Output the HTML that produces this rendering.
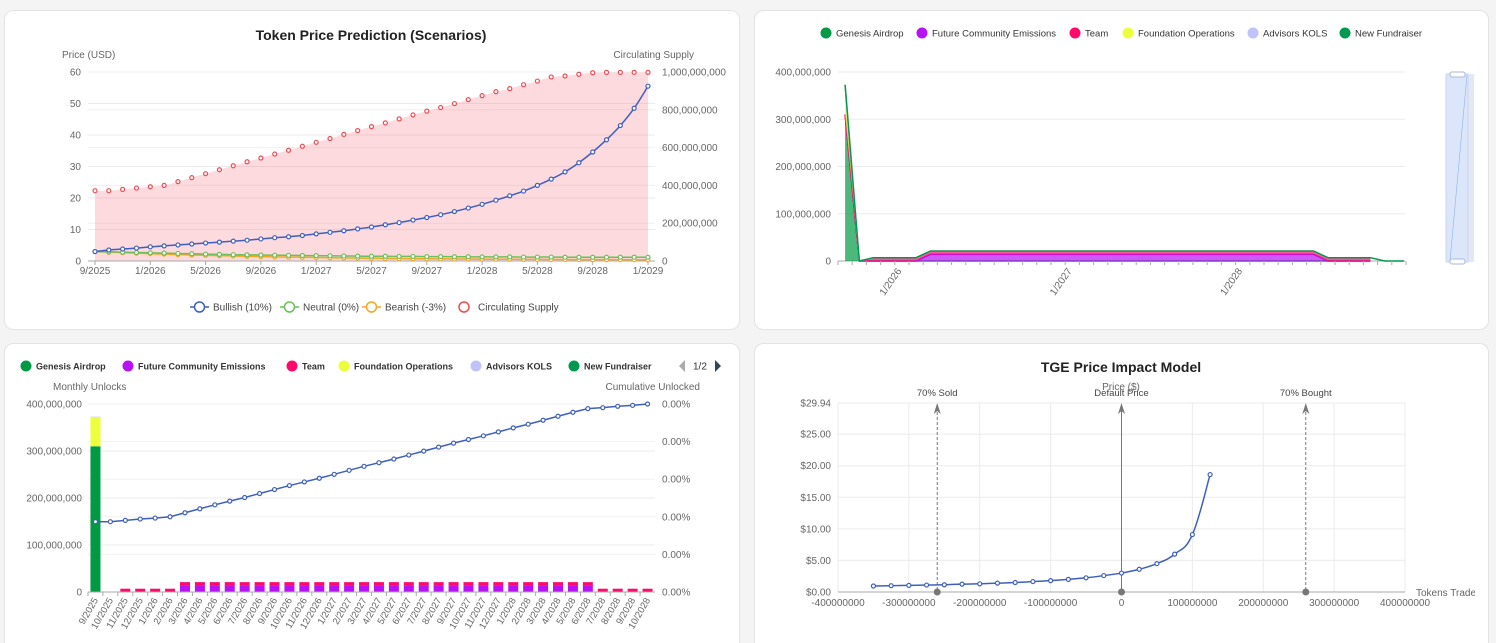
<!DOCTYPE html>
<html><head><meta charset="utf-8"><style>
html,body{margin:0;padding:0;background:#f4f4f5;width:1496px;height:643px;overflow:hidden}
svg{display:block;font-family:"Liberation Sans",sans-serif}
</style></head><body>
<svg id="s" width="1496" height="643" viewBox="0 0 1496 643" xmlns="http://www.w3.org/2000/svg"></svg>
<script>
// ---------- Chart 1 data ----------
const monthLabels1 = ["9/2025","1/2026","5/2026","9/2026","1/2027","5/2027","9/2027","1/2028","5/2028","9/2028","1/2029"];
const bullish = [3.0,3.5,3.8,4.1,4.5,4.8,5.1,5.4,5.7,6.0,6.3,6.6,7.0,7.4,7.7,8.1,8.6,9.1,9.6,10.2,10.8,11.5,12.2,13.0,13.8,14.7,15.7,16.8,18.0,19.3,20.7,22.2,24.0,26.0,28.3,31.2,34.6,38.5,43.0,48.5,55.5];
const neutral = [3.0,2.9,2.8,2.7,2.6,2.5,2.4,2.3,2.2,2.1,2.0,1.95,1.9,1.85,1.8,1.75,1.7,1.65,1.6,1.55,1.5,1.5,1.45,1.45,1.4,1.4,1.35,1.35,1.3,1.3,1.3,1.25,1.25,1.25,1.2,1.2,1.2,1.2,1.2,1.2,1.2];
const bearish = [3.0,2.8,2.65,2.5,2.35,2.2,2.05,1.9,1.8,1.7,1.6,1.5,1.4,1.32,1.25,1.18,1.1,1.04,0.98,0.93,0.88,0.83,0.79,0.75,0.71,0.68,0.65,0.62,0.59,0.56,0.54,0.52,0.5,0.48,0.46,0.45,0.44,0.43,0.42,0.41,0.4];
const supplyM = [372,372,379,386,393,400,420,441,462,483,504,525,545,566,586,607,628,648,670,690,711,731,752,773,793,812,833,854,875,896,912,933,952,974,979,988,996,998,998,998,998];
const priceTicks = [0,10,20,30,40,50,60];
const supplyTicks = [0,200000000,400000000,600000000,800000000,1000000000];
// ---------- Unlock data ----------
const unlockMonths = ["9/2025","10/2025","11/2025","12/2025","1/2026","2/2026","3/2026","4/2026","5/2026","6/2026","7/2026","8/2026","9/2026","10/2026","11/2026","12/2026","1/2027","2/2027","3/2027","4/2027","5/2027","6/2027","7/2027","8/2027","9/2027","10/2027","11/2027","12/2027","1/2028","2/2028","3/2028","4/2028","5/2028","6/2028","7/2028","8/2028","9/2028","10/2028"];
const genesisM = [310,0,0,0,0,0,0,0,0,0,0,0,0,0,0,0,0,0,0,0,0,0,0,0,0,0,0,0,0,0,0,0,0,0,0,0,0,0];
const communityM = [0,0,0,0,0,0,14,14,14,14,14,14,14,14,14,14,14,14,14,14,14,14,14,14,14,14,14,14,14,14,14,14,14,14,0,0,0,0];
const teamM = [0,0,7,7,7,7,7,7,7,7,7,7,7,7,7,7,7,7,7,7,7,7,7,7,7,7,7,7,7,7,7,7,7,7,7,7,7,7];
const foundationM = [62,0,0,0,0,0,0,0,0,0,0,0,0,0,0,0,0,0,0,0,0,0,0,0,0,0,0,0,0,0,0,0,0,0,0,0,0,0];
const advisorsM = [1,0,0,0,0,0,0,0,0,0,0,0,0,0,0,0,0,0,0,0,0,0,0,0,0,0,0,0,0,0,0,0,0,0,0,0,0,0];
const fundraiserM = [0,0,0,0,0,0,0,0,0,0,0,0,0,0,0,0,0,0,0,0,0,0,0,0,0,0,0,0,0,0,0,0,0,0,0,0,0,0];
const cumulativeM = [149.6,149.6,152.4,155.2,157.3,160.1,168.6,177.1,185.5,193.3,201,209.5,218,226.5,234.2,242,250.4,258.9,267.4,275.1,282.9,291.4,299.8,308.3,316.8,324.5,332.3,340.7,349.2,357,365.4,373.9,382.4,390.1,392.2,395.1,397.2,400];
const unlockTicks = [0,100000000,200000000,300000000,400000000];
const pctTicks = ["0.00%","0.00%","0.00%","0.00%","0.00%","0.00%"];
const areaLabels = ["1/2026","1/2027","1/2028"];
const areaLabelIdx = [4,16,28];
// ---------- TGE data ----------
const tradedM = [-350,-325,-300,-275,-250,-225,-200,-175,-150,-125,-100,-75,-50,-25,0,25,50,75,100,125];
const impactPrice = [0.95,1.0,1.05,1.1,1.15,1.25,1.3,1.4,1.5,1.65,1.8,2.0,2.25,2.6,3.0,3.6,4.5,6.0,9.1,18.6];
const tgeYTicks = [0,5,10,15,20,25,29.94];
const tgeXTicks = [-400000000,-300000000,-200000000,-100000000,0,100000000,200000000,300000000,400000000];
const markerM = [-260,0,260];
const markerLabels = ["70% Sold","Default Price","70% Bought"];

const series = [
 {n:"Genesis Airdrop",c:"#009a44",d:genesisM},
 {n:"Future Community Emissions",c:"#b612f5",d:communityM},
 {n:"Team",c:"#ff0a6c",d:teamM},
 {n:"Foundation Operations",c:"#ebff3a",d:foundationM},
 {n:"Advisors KOLS",c:"#c2c2fb",d:advisorsM},
 {n:"New Fundraiser",c:"#00994d",d:fundraiserM}];

const S=document.getElementById('s');const NS="http://www.w3.org/2000/svg";
function el(t,a,p){const e=document.createElementNS(NS,t);for(const k in a)e.setAttribute(k,a[k]);(p||S).appendChild(e);return e;}
function tx(x,y,s,a,p){const e=el('text',Object.assign({x:x,y:y,'font-size':10,fill:'#666'},a||{}),p);e.textContent=s;return e;}
function fmt(v){return v.toLocaleString('en-US');}
function smooth(pts){let d="M"+pts[0][0]+","+pts[0][1];for(let i=0;i<pts.length-1;i++){const p0=pts[i-1]||pts[i],p1=pts[i],p2=pts[i+1],p3=pts[i+2]||p2;const t=0.2;d+=" C"+(p1[0]+(p2[0]-p0[0])*t)+","+(p1[1]+(p2[1]-p0[1])*t)+" "+(p2[0]-(p3[0]-p1[0])*t)+","+(p2[1]-(p3[1]-p1[1])*t)+" "+p2[0]+","+p2[1];}return d;}

[[4,10,735,319,'price-prediction-card'],[754,10,734,319,'vesting-area-card'],[4,343,735,310,'monthly-unlocks-card'],[754,343,734,310,'tge-impact-card']].forEach(c=>{
 const r=el('rect',{x:c[0]+.5,y:c[1]+.5,width:c[2],height:c[3],rx:9,fill:'#fff',stroke:'#e3e3e6'});
 });

// ===== Chart 1 =====
(function(){
 const g=el('g',{});
 const x0=95,x1=648,yT=72,yB=261;
 const X=i=>x0+(x1-x0)*i/(bullish.length-1);
 const YL=v=>yB-(yB-yT)*v/60;
 const YR=v=>yB-(yB-yT)*v/1000000000;
 const t=tx(371,40,"Token Price Prediction (Scenarios)",{'font-size':14,'font-weight':'bold',fill:'#222','text-anchor':'middle'},g);
 
 tx(62,58,"Price (USD)",{},g);
 tx(694,58,"Circulating Supply",{'text-anchor':'end'},g);
 priceTicks.forEach(v=>{el('line',{x1:88,x2:655,y1:YL(v),y2:YL(v),stroke:'#ebebeb'},g);
   const l=tx(81,YL(v)+3.5,String(v),{'text-anchor':'end'},g);});
 supplyTicks.forEach(v=>{el('line',{x1:88,x2:655,y1:YR(v),y2:YR(v),stroke:'#f0f0f0'},g);
   const l=tx(662,YR(v)+3.5,fmt(v),{},g);});
 const sp=supplyM.map((v,i)=>[X(i),YR(v*1e6)]);
 const area=el('path',{d:smooth(sp)+` L${x1},${yB} L${x0},${yB} Z`,fill:'rgba(245,120,130,0.27)'},g);
 
 el('line',{x1:88,x2:655,y1:yB,y2:yB,stroke:'#aaa'},g);
 monthLabels1.forEach((s,k)=>{const x=X(k*4);el('line',{x1:x,x2:x,y1:yB,y2:yB+4,stroke:'#aaa'},g);
   const l=tx(x,yB+13,s,{'text-anchor':'middle'},g);});
 function line(d,c,name){const p=el('path',{d:smooth(d.map((v,i)=>[X(i),YL(v)])),fill:'none',stroke:c,'stroke-width':1.5},g);
   
   d.forEach((v,i)=>{const c2=el('circle',{cx:X(i),cy:YL(v),r:2,fill:'#fff',stroke:c,'stroke-width':1.2},g);
   });}
 line(bearish,'#f5a623','bearish');line(neutral,'#6cc05c','neutral');line(bullish,'#3f5fbf','bullish');
 supplyM.forEach((v,i)=>{const c=el('circle',{cx:X(i),cy:YR(v*1e6),r:2,fill:'#fff',stroke:'#f04b55','stroke-width':1.2},g);
   });
 [[190,'#3f5fbf','Bullish (10%)'],[280,'#6cc05c','Neutral (0%)'],[362,'#f5a623','Bearish (-3%)']].forEach(L=>{
   const lg=el('g',{},g);
   el('line',{x1:L[0],x2:L[0]+19,y1:307,y2:307,stroke:L[1],'stroke-width':1.5},lg);
   el('circle',{cx:L[0]+9.5,cy:307,r:5,fill:'#fff',stroke:L[1],'stroke-width':1.5},lg);
   tx(L[0]+23,310.5,L[2],{fill:'#444'},lg);});
 const lg=el('g',{},g);
 el('circle',{cx:464,cy:307,r:5,fill:'#fff',stroke:'#f04b55','stroke-width':1.5},lg);tx(478,310.5,'Circulating Supply',{fill:'#444'},lg);
})();

function legend(g,xs,y,bold){series.forEach((s,i)=>{const lg=el('g',{},g);
 el('circle',{cx:xs[i],cy:y,r:5.5,fill:s.c},lg);tx(xs[i]+10,y+3.5,s.n,{fill:'#333','font-size':bold?9:9.5,'font-weight':bold?'bold':'normal'},lg);});}

// ===== Chart 2 (stacked area) =====
(function(){
 const g=el('g',{});
 legend(g,[826,922,1075,1128,1253,1345],33,false);
 const bx=838,bw=14.2,yT=72,yB=261;
 const X=i=>bx+bw/2+i*bw;const Y=v=>yB-(yB-yT)*v/400000000;
 unlockTicks.forEach(v=>{el('line',{x1:bx,x2:1405,y1:Y(v),y2:Y(v),stroke:'#ebebeb'},g);
   const l=tx(831,Y(v)+3.5,fmt(v),{'text-anchor':'end'},g);});
 el('line',{x1:bx,x2:1405,y1:yB,y2:yB,stroke:'#aaa'},g);
 let base=genesisM.map(()=>0);
 series.forEach((s,k)=>{const top=base.map((b,i)=>b+s.d[i]);
   const up=top.map((v,i)=>X(i)+','+Y(v*1e6));const dn=base.map((v,i)=>X(i)+','+Y(v*1e6)).reverse();
   const a=el('path',{d:'M'+up.join(' L')+' L'+dn.join(' L')+'Z',fill:s.c,'fill-opacity':0.7},g);
   
   el('path',{d:'M'+up.join(' L'),fill:'none',stroke:s.c,'stroke-width':1.5},g);base=top;});
 el('path',{d:`M${X(genesisM.length-1)},${Y(base[base.length-1]*1e6)} L${X(genesisM.length-1)+bw},${yB} L1404,${yB}`,fill:'none',stroke:'#00994d','stroke-width':1.5},g);
 for(let i=0;i<=40;i++){const x=bx+i*bw;el('line',{x1:x,x2:x,y1:yB,y2:yB+4,stroke:'#aaa'},g);}
 areaLabels.forEach((s,k)=>{const x=X(areaLabelIdx[k]);const l=tx(x,yB+10,s,{'text-anchor':'end',transform:`rotate(-55 ${x} ${yB+10})`},g);});
 const sl=el('g',{},g);
 el('rect',{x:1446,y:74,width:28,height:188,fill:'#e2e8f5'},sl);
 el('rect',{x:1446,y:74,width:22,height:188,fill:'#dbe6fb',stroke:'#c9d6f0'},sl);
 el('line',{x1:1467,y1:75,x2:1450,y2:261,stroke:'#8fb0ee','stroke-width':.6},sl);
 el('rect',{x:1450,y:72,width:15,height:5,rx:2,fill:'#fff',stroke:'#a8b8d8'},sl);
 el('rect',{x:1450,y:259,width:15,height:5,rx:2,fill:'#fff',stroke:'#a8b8d8'},sl);
})();

// ===== Chart 3 (monthly unlocks) =====
(function(){
 const g=el('g',{});
 legend(g,[26,128,292,344,476,574],366,true);
 const pg=el('g',{},g);
 el('path',{d:'M685,360 L679,366 L685,372Z',fill:'#aaa'},pg);tx(693,369.5,'1/2',{fill:'#333'},pg);el('path',{d:'M715,360 L721,366 L715,372Z',fill:'#2f4554'},pg);
 tx(53,390,'Monthly Unlocks',{},g);
 tx(700,390,'Cumulative Unlocked',{'text-anchor':'end'},g);
 const bx=88,bw=(655-88)/unlockMonths.length,yT=404,yB=592;
 const X=i=>bx+bw/2+i*bw;const Y=v=>yB-(yB-yT)*v/400000000;
 unlockTicks.forEach(v=>{el('line',{x1:bx,x2:655,y1:Y(v),y2:Y(v),stroke:'#ebebeb'},g);
   const l=tx(82,Y(v)+3.5,fmt(v),{'text-anchor':'end'},g);});
 pctTicks.forEach((s,k)=>{const y=yB-(yB-yT)*k/(pctTicks.length-1);el('line',{x1:bx,x2:655,y1:y,y2:y,stroke:'#f2f2f2'},g);
   const l=tx(662,y+3.5,s,{},g);});
 let base=genesisM.map(()=>0);
 series.forEach(s=>{s.d.forEach((v,i)=>{if(v<=0)return;const r=el('rect',{x:X(i)-5,y:Y((base[i]+v)*1e6),width:10,height:Y(base[i]*1e6)-Y((base[i]+v)*1e6),fill:s.c},g);
   });
   base=base.map((b,i)=>b+s.d[i]);});
 el('line',{x1:bx,x2:655,y1:yB,y2:yB,stroke:'#aaa'},g);
 unlockMonths.forEach((s,i)=>{const x=bx+i*bw;el('line',{x1:x,x2:x,y1:yB,y2:yB+4,stroke:'#aaa'},g);
   const l=tx(X(i)+3,yB+8,s,{'text-anchor':'end','font-size':9.5,transform:`rotate(-60 ${X(i)+3} ${yB+8})`},g);});
 const p=el('path',{d:'M'+cumulativeM.map((v,i)=>X(i)+','+Y(v*1e6)).join(' L'),fill:'none',stroke:'#3f5fbf','stroke-width':1.5},g);
 
 cumulativeM.forEach((v,i)=>{const c=el('circle',{cx:X(i),cy:Y(v*1e6),r:2,fill:'#fff',stroke:'#3f5fbf','stroke-width':1.2},g);
   });
})();

// ===== Chart 4 (TGE) =====
(function(){
 const g=el('g',{});
 const xl=838,xr=1405,yT=403,yB=592;
 const X=v=>xl+(xr-xl)*(v+400000000)/800000000;const Y=v=>yB-(yB-yT)*v/29.94;
 const t=tx(1121,372,"TGE Price Impact Model",{'font-size':14,'font-weight':'bold',fill:'#222','text-anchor':'middle'},g);
 
 tgeYTicks.forEach(v=>{el('line',{x1:xl,x2:xr,y1:Y(v),y2:Y(v),stroke:'#ebebeb'},g);
   const l=tx(831,Y(v)+3.5,'$'+v.toFixed(2),{'text-anchor':'end'},g);});
 tgeXTicks.forEach(v=>{el('line',{x1:X(v),x2:X(v),y1:yT,y2:yB,stroke:'#ebebeb'},g);
   const l=tx(X(v),yB+14,String(v),{'text-anchor':'middle'},g);});
 el('line',{x1:xl,x2:xr,y1:yB,y2:yB,stroke:'#aaa'},g);
 tx(1416,596,'Tokens Traded',{},g);
 el('rect',{x:1475,y:580,width:13,height:25,fill:'#fff'},g);
 tx(1121,390,'Price ($)',{'text-anchor':'middle'},g);
 markerM.forEach((m,k)=>{const x=X(m*1e6);const mg=el('g',{},g);
   el('line',{x1:x,x2:x,y1:yT+4,y2:yB,stroke:'#777','stroke-dasharray':m===0?'none':'3,2','stroke-width':1},mg);
   el('path',{d:`M${x},${yT} L${x-3.5},${yT+11} L${x},${yT+8} L${x+3.5},${yT+11}Z`,fill:'#777'},mg);
   el('circle',{cx:x,cy:yB,r:3.5,fill:'#777'},mg);
   tx(x,yT-7,markerLabels[k],{'text-anchor':'middle',fill:'#444','font-size':9.5},mg);});
 const pts=tradedM.map((v,i)=>[X(v*1e6),Y(impactPrice[i])]);
 const p=el('path',{d:smooth(pts),fill:'none',stroke:'#3f5fbf','stroke-width':1.5},g);
 
 pts.forEach(q=>{const c=el('circle',{cx:q[0],cy:q[1],r:2,fill:'#fff',stroke:'#3f5fbf','stroke-width':1.2},g);
   });
})();
</script>
</body></html>
